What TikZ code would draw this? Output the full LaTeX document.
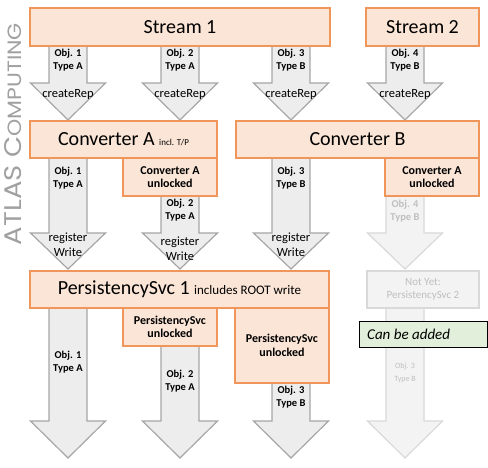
\documentclass[tikz,border=0pt]{standalone}
\usepackage{fontspec}
\setmainfont{Carlito}
\newfontfamily\atlasfont{Poppins}
\definecolor{boxfill}{RGB}{251,229,214}
\definecolor{boxline}{RGB}{240,150,90}
\definecolor{arrfill}{RGB}{237,237,237}
\definecolor{arrline}{RGB}{166,166,166}
\definecolor{fadefill}{RGB}{243,243,243}
\definecolor{fadeline}{RGB}{217,217,217}
\definecolor{fadetext}{RGB}{191,191,191}
\definecolor{greenfill}{RGB}{226,239,218}
\definecolor{atlasgray}{RGB}{160,160,160}
\newcommand{\blkarrow}[5]{%
  \path[#1] (#2-19,#3) -- (#2-19,#4) -- (#2-37.5,#4) -- (#2,#5) -- (#2+37.5,#4) -- (#2+19,#4) -- (#2+19,#3);}
\tikzset{
  bigbox/.style={draw=boxline, fill=boxfill, line width=1.3pt, inner sep=0pt, align=center,
    font=\fontsize{20}{22}\selectfont},
  subbox/.style={draw=boxline, fill=boxfill, line width=1.3pt, inner sep=0pt, align=center,
    font=\bfseries\fontsize{12}{13.5}\selectfont},
  fadebox/.style={draw=fadeline, fill=fadefill, line width=1.3pt, inner sep=0pt, align=center,
    text=fadetext, font=\fontsize{11}{12.7}\selectfont},
  greenbox/.style={draw=black, fill=greenfill, line width=1pt, inner sep=0pt},
  arr/.style={fill=arrfill, draw=arrline, line width=1.2pt, line join=miter},
  fadearr/.style={fill=fadefill, draw=fadeline, line width=1.2pt, line join=miter},
  objlbl/.style={align=center, inner sep=0pt, font=\bfseries\fontsize{10.5}{12.7}\selectfont},
  actlbl/.style={align=center, inner sep=0pt, font=\fontsize{12.5}{15}\selectfont},
}
\begin{document}
\begin{tikzpicture}[x=1pt,y=-1pt]
\useasboundingbox (0,0) rectangle (488,468);
% ---- arrows row 1
\blkarrow{arr}{68}{40}{83}{120}
\blkarrow{arr}{180}{40}{83}{120}
\blkarrow{arr}{291}{40}{83}{120}
\blkarrow{arr}{405}{40}{83}{120}
% ---- arrows row 2
\blkarrow{arr}{68}{152}{233}{269}
\blkarrow{arr}{180}{190}{233}{269}
\blkarrow{arr}{291}{152}{233}{269}
\blkarrow{fadearr}{405}{190}{233}{269}
% ---- arrows row 3
\blkarrow{arr}{68}{302}{421}{458}
\blkarrow{arr}{180}{340}{421}{458}
\blkarrow{arr}{291}{377}{421}{458}
\blkarrow{fadearr}{405}{302}{421}{458}
% ---- row 1 boxes
\node[bigbox, minimum width=300pt, minimum height=38pt] (s1) at (180,27) {Stream 1};
\node[bigbox, minimum width=113pt, minimum height=38pt] (s2) at (422.5,27) {Stream 2};
% ---- row 2 boxes
\node[bigbox, minimum width=187pt, minimum height=37pt] (ca) at (123.5,139.5)
  {Converter A {\fontsize{9}{9}\selectfont incl. T/P}};
\node[bigbox, minimum width=243pt, minimum height=37pt] (cb) at (357.5,139.5) {Converter B};
\node[subbox, minimum width=94pt, minimum height=38pt] (cau1) at (170,177) {Converter A\\unlocked};
\node[subbox, minimum width=94pt, minimum height=38pt] (cau2) at (432,177) {Converter A\\unlocked};
% ---- row 3 boxes
\node[bigbox, minimum width=299pt, minimum height=37pt] (p1) at (179.5,289.5)
  {PersistencySvc 1 {\fontsize{13}{13}\selectfont includes ROOT write}};
\node[subbox, minimum width=94pt, minimum height=38pt] (pu1) at (170,327) {PersistencySvc\\unlocked};
\node[subbox, minimum width=94pt, minimum height=75pt] (pu2) at (282,345.5) {PersistencySvc\\unlocked};
\node[fadebox, minimum width=112pt, minimum height=37pt] (ny) at (423,289.5) {Not Yet:\\PersistencySvc 2};
\node[greenbox, minimum width=128pt, minimum height=26pt] (cba) at (423,334) {};
\node[anchor=west, inner sep=0pt, font=\itshape\fontsize{15}{15}\selectfont] (cbat) at (367,334) {Can be added};
% ---- labels row 1
\node[objlbl] (o11) at (68,60) {Obj. 1\\Type A};
\node[objlbl] (o12) at (180,60) {Obj. 2\\Type A};
\node[objlbl] (o13) at (291,60) {Obj. 3\\Type B};
\node[objlbl] (o14) at (405,60) {Obj. 4\\Type B};
\node[actlbl] (c1) at (68,94) {createRep};
\node[actlbl] (c2) at (180,94) {createRep};
\node[actlbl] (c3) at (291,94) {createRep};
\node[actlbl] (c4) at (405,94) {createRep};
% ---- labels row 2
\node[objlbl] (o21) at (68,178) {Obj. 1\\Type A};
\node[objlbl] (o22) at (180,210) {Obj. 2\\Type A};
\node[objlbl] (o23) at (291,178) {Obj. 3\\Type B};
\node[objlbl, text=fadetext] (o24) at (405,211) {Obj. 4\\Type B};
\node[actlbl] (r1) at (68,245) {register\\Write};
\node[actlbl] (r2) at (180,249) {register\\Write};
\node[actlbl] (r3) at (291,245) {register\\Write};
% ---- labels row 3
\node[objlbl] (o31) at (68,362) {Obj. 1\\Type A};
\node[objlbl] (o32) at (180,381) {Obj. 2\\Type A};
\node[objlbl] (o33) at (291,397) {Obj. 3\\Type B};
\node[align=center, inner sep=0pt, text=fadetext, font=\fontsize{8}{12.3}\selectfont] (o34) at (405,373) {Obj. 3\\Type B};
% ---- side title
\node[rotate=90, inner sep=0pt, text=atlasgray] (atlas) at (13.5,134)
  {\resizebox{222pt}{17pt}{\atlasfont\fontsize{20}{20}\selectfont ATLAS C{\fontsize{16}{16}\selectfont OMPUTING}}};
\end{tikzpicture}
\end{document}
